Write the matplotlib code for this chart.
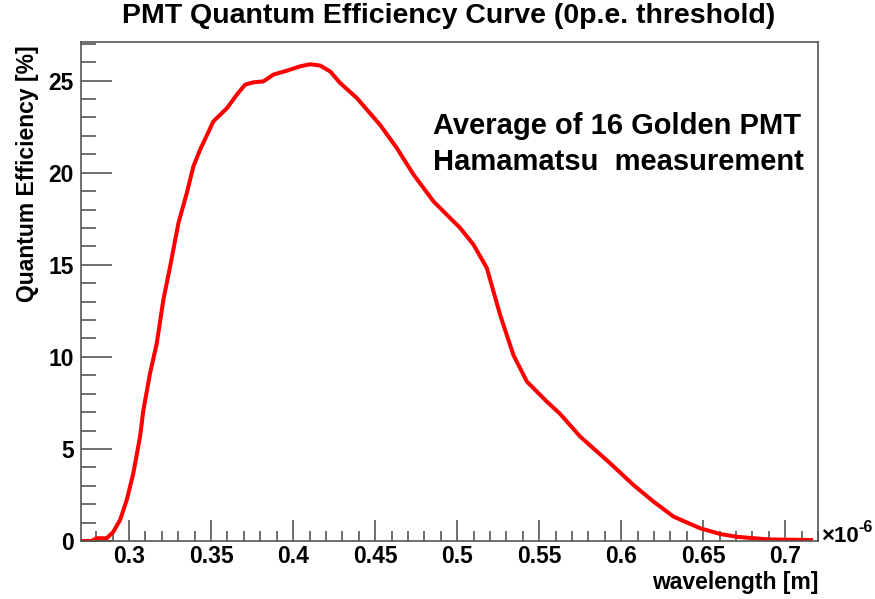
import matplotlib
matplotlib.use("Agg")
import matplotlib.pyplot as plt
from matplotlib.ticker import MultipleLocator

# Wavelength in units of 1e-6 m, quantum efficiency in %
wavelength = [0.2700, 0.2770, 0.2803, 0.2864, 0.2904, 0.2945, 0.2986, 0.3026,
              0.3067, 0.3087, 0.3128, 0.3169, 0.3209, 0.3250, 0.3301, 0.3352,
              0.3392, 0.3433, 0.3514, 0.3596, 0.3657, 0.3707, 0.3758, 0.3819,
              0.3880, 0.3962, 0.4043, 0.4104, 0.4165, 0.4226, 0.4287, 0.4388,
              0.4530, 0.4632, 0.4734, 0.4856, 0.5018, 0.5100, 0.5181, 0.5262,
              0.5343, 0.5425, 0.5547, 0.5628, 0.5750, 0.5933, 0.6075, 0.6197,
              0.6320, 0.6482, 0.6604, 0.6705, 0.6890, 0.7170]
efficiency = [0.00, 0.00, 0.15, 0.15, 0.50, 1.14, 2.23, 3.68,
              5.67, 7.10, 9.11, 10.74, 13.10, 14.90, 17.27, 18.90,
              20.34, 21.25, 22.79, 23.50, 24.24, 24.78, 24.91, 24.96,
              25.33, 25.54, 25.78, 25.89, 25.82, 25.50, 24.87, 24.06,
              22.60, 21.34, 19.90, 18.44, 17.00, 16.09, 14.82, 12.28,
              10.10, 8.66, 7.57, 6.90, 5.67, 4.22, 3.04, 2.14,
              1.32, 0.69, 0.38, 0.23, 0.09, 0.05]

title = "PMT Quantum Efficiency Curve (0p.e. threshold)"
xlabel = "wavelength [m]"
ylabel = "Quantum Efficiency [%]"
notes = ["Average of 16 Golden PMT", "Hamamatsu  measurement"]

plt.rcParams['font.family'] = ['Liberation Sans', 'DejaVu Sans']
plt.rcParams['font.weight'] = 'bold'

fig = plt.figure(figsize=(8.75, 5.99), dpi=100)
ax = fig.add_axes([0.0922, 0.0968, 0.8427, 0.8331])

ax.plot(wavelength, efficiency, color='#ff0000', lw=2.9,
        solid_joinstyle='round', solid_capstyle='butt')

ax.set_xlim(0.2705, 0.7200)
ax.set_ylim(0, 27.1)

frame_col = '#555555'
for s in ax.spines.values():
    s.set_color(frame_col)
    s.set_linewidth(1.2)

ax.xaxis.set_major_locator(MultipleLocator(0.05))
ax.xaxis.set_minor_locator(MultipleLocator(0.01))
ax.yaxis.set_major_locator(MultipleLocator(5))
ax.yaxis.set_minor_locator(MultipleLocator(1))
ax.tick_params(axis='x', which='major', direction='in', length=15, width=1.2,
               color=frame_col, labelsize=16.5, pad=3, top=False)
ax.tick_params(axis='x', which='minor', direction='in', length=7.5, width=1.2,
               color=frame_col, top=False)
ax.tick_params(axis='y', which='major', direction='in', length=22, width=1.2,
               color=frame_col, labelsize=16.5, pad=5, right=False)
ax.tick_params(axis='y', which='minor', direction='in', length=11, width=1.2,
               color=frame_col, right=False)
ax.xaxis.set_major_formatter(plt.FuncFormatter(lambda v, p: f"{v:g}"))
ax.yaxis.set_major_formatter(plt.FuncFormatter(lambda v, p: f"{v:g}"))
for lab in ax.get_xticklabels() + ax.get_yticklabels():
    lab.set_fontweight('bold')

fig.text(0.513, 0.973, title, ha='center', va='center', fontsize=20.5,
         fontweight='bold')
ax.text(1.0, -0.083, xlabel, transform=ax.transAxes, ha='right', va='center',
        fontsize=16.5, fontweight='bold')
fig.text(0.032, 0.925, ylabel, rotation=90, ha='center', va='top',
         fontsize=16.5, fontweight='bold')

# axis exponent: "x10" followed by a raised "-6"
base = fig.text(821 / 875, 1 - 537 / 599, "\u00d710", ha='left', va='center',
                fontsize=16, fontweight='bold')
fig.canvas.draw()
bb = base.get_window_extent(fig.canvas.get_renderer())
fig.text(bb.x1 / fig.bbox.width, 1 - 527 / 599, "-6", ha='left', va='center',
         fontsize=11.5, fontweight='bold')

ax.text(0.478, 0.832, notes[0], transform=ax.transAxes, ha='left', va='center',
        fontsize=21, fontweight='bold')
ax.text(0.478, 0.7595, notes[1], transform=ax.transAxes, ha='left', va='center',
        fontsize=21, fontweight='bold')

fig.savefig("out.png", dpi=100, facecolor='white')
